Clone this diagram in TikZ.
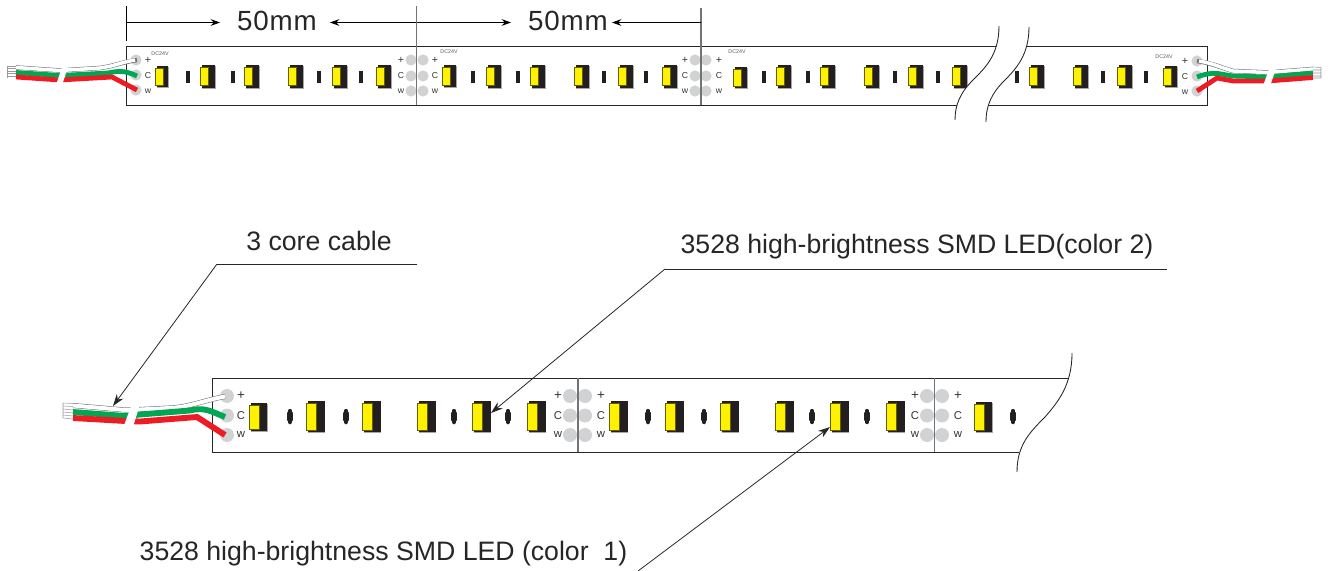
\documentclass[tikz,border=0pt]{standalone}
\usepackage{fontspec}
\setmainfont{Liberation Sans}
\newfontfamily\spacedfont[LetterSpace=3]{Liberation Sans}
\usetikzlibrary{arrows.meta}
\definecolor{ledyellow}{HTML}{FFF200}
\definecolor{ledblack}{HTML}{231F20}
\definecolor{wiregreen}{HTML}{00A651}
\definecolor{wirered}{HTML}{ED1C24}
\definecolor{padgrey}{HTML}{D1D2D4}
\tikzset{
  x=0.75pt,y=-0.75pt,
  outline/.style={draw=black!85,line width=0.65pt},
  divider/.style={draw=black!55,line width=1.1pt},
  dimline/.style={draw=black,line width=0.6pt},
  dimarrow/.style={dimline,-{Stealth[length=7pt,width=5pt]}},
  leader/.style={draw=black!85,line width=0.6pt},
  leadarrow/.style={leader,-{Stealth[length=9pt,width=6pt]}},
  bigtext/.style={inner sep=0pt,font=\fontsize{20}{20}\selectfont,text=black!85},
  dimtext/.style={inner sep=0pt,font=\spacedfont\fontsize{20.8}{21}\selectfont,text=black!85},
  smalllab/.style={inner sep=0pt,font=\fontsize{6.5}{7}\selectfont,text=black!80},
  midlab/.style={inner sep=0pt,font=\fontsize{8.5}{9}\selectfont,text=black!80},
  tinylab/.style={inner sep=0pt,font=\fontsize{4}{4}\selectfont,text=black!65},
  whitewire/.style={draw=black!55,line width=3.4pt,line cap=butt},
  whitecore/.style={draw=white,line width=2.6pt,line cap=butt},
  greenwire/.style={draw=wiregreen,line width=3.6pt,line cap=butt},
  redwire/.style={draw=wirered,line width=3.6pt,line cap=butt},
  stub/.style={draw=black!40,line width=0.4pt},
}
% LED: x, top, bottom, yellow width, total width
\newcommand\ledmark[5]{%
  \fill[black!35] ({#1+1.5},{#2+1}) rectangle ({#1+#5+0.8},{#3+1});
  \fill[ledblack] ({#1+1.5},#2) rectangle ({#1+#5},#3);
  \fill[ledyellow,draw=black!60!ledyellow,line width=0.5pt] (#1,{#2+2.5}) rectangle ({#1+#4},{#3-2});
}
\newcommand\toplabels[2]{% x of labels, y first row
  \node[smalllab,font=\fontsize{8}{8}\selectfont] at (#1,#2) {+};
  \node[smalllab] at (#1,{#2+15.5}) {C};
  \node[smalllab] at (#1,{#2+31}) {w};
}
\newcommand\botlabels[2]{%
  \node[midlab,font=\fontsize{10}{10}\selectfont] at (#1,#2) {+};
  \node[midlab] at (#1,{#2+19.5}) {C};
  \node[midlab] at (#1,{#2+39}) {w};
}
\begin{document}
\begin{tikzpicture}
\useasboundingbox (0,0) rectangle (1332,571);

% ---------- TOP STRIP ----------
\draw[outline] (997,46) -- (126,46) -- (126,105) -- (957,105);
\draw[outline] (1027,46) -- (1207,46) -- (1207,105) -- (987,105);

% pads
\foreach \px/\py in {136/60,136/75,136/90,411/60,411/76,411/91,423/60,423/76,423/91,
                     695/60,695/76,695/91,706/60,706/76,706/91,1197/61,1197/76,1197/91}
  \fill[padgrey] (\px,\py) circle[radius=5.6];

% LEDs top
\ledmark{155}{65.5}{87}{8}{13}
\foreach \lx in {200,244,288,332,376,486,530,574,618,662,776,820,864,908,952,1029,1073,1117}
  \ledmark{\lx}{65}{87.5}{8}{15}
\ledmark{442}{64.5}{87}{8}{14}
\ledmark{733}{66.5}{88}{8}{14}
\ledmark{1163}{65.5}{87}{8}{14}
\foreach \bx in {186,231,317,359,471,516,602,644,762,806,893,936,1015,1101,1144}
  \fill[ledblack] (\bx,71) rectangle ({\bx+3.6},83);

% labels top
\toplabels{148}{60}
\toplabels{401}{60}
\toplabels{435}{60}
\toplabels{685}{60}
\toplabels{719}{60}
\toplabels{1185}{61}
\node[tinylab] (dcA) at (160,54) {DC24V};
\node[tinylab] (dcB) at (449,52) {DC24V};
\node[tinylab] (dcC) at (737,52) {DC24V};
\node[tinylab] (dcD) at (1164,57) {DC24V};

% dividers and dimension ticks
\draw[divider] (416.5,6) -- (416.5,105);
\draw[divider] (701,8) -- (701,105);
\draw[dimline] (126,6) -- (126,41);

% break in the strip
\fill[white] (999,26) .. controls (999,55) and (985,68) .. (973,80) .. controls (960,93) and (955,105) .. (955,120)
  -- (986,122) .. controls (986,105) and (992,93) .. (1004,81) .. controls (1016,69) and (1029,55) .. (1029,27) -- cycle;
\draw[outline] (999,26) .. controls (999,55) and (985,68) .. (973,80) .. controls (960,93) and (955,105) .. (955,120);
\draw[outline] (1029,27) .. controls (1029,55) and (1016,69) .. (1004,81) .. controls (992,93) and (986,105) .. (986,122);

% wires top-left
\draw[stub] (7,66) -- (16,66) (7,68.5) -- (16,68.5) (7,71) -- (16,71) (7,73.5) -- (16,73.5) (7,76) -- (16,76) (7,66) -- (7,78);
\draw[whitewire] (16,67.5) -- (60,70.5) -- (100,68) .. controls (115,66) and (122,62) .. (137,60);
\draw[whitecore] (16,67.5) -- (60,70.5) -- (100,68) .. controls (115,66) and (122,62) .. (135,60);
\draw[greenwire] (16,72.5) -- (60,75.5) -- (108,73) .. controls (118,71) and (124,70) .. (137,76);
\draw[redwire] (16,77) -- (60,80) -- (112,77) -- (137,90);
\fill[white] (56,85) -- (63,64) -- (69,64) -- (62,85) -- cycle;

% wires top-right
\draw[stub] (1313,67) -- (1321,67.5) (1313,70) -- (1321,70) (1313,73) -- (1321,73) (1313,76) -- (1321,76) (1313,78) -- (1321,78) (1321,67) -- (1321,78);
\draw[whitewire] (1313,69) -- (1268,72.5) -- (1233,71) .. controls (1222,68) and (1212,63) .. (1197,61);
\draw[whitecore] (1313,69) -- (1268,72.5) -- (1233,71) .. controls (1222,68) and (1212,63) .. (1199,61);
\draw[greenwire] (1313,73) -- (1268,77) -- (1233,76) .. controls (1222,75) and (1215,70) .. (1197,77);
\draw[redwire] (1313,77.5) -- (1268,81) -- (1233,81) -- (1217,78) -- (1197,91);
\fill[white] (1263,86) -- (1270,66) -- (1277,66) -- (1270,86) -- cycle;

% dimensions
\coordinate (dA1) at (127,22.5);
\coordinate (dA2) at (220,22.5);
\coordinate (dB1) at (416,22.5);
\coordinate (dB2) at (330,22.5);
\coordinate (dC1) at (417,22.5);
\coordinate (dC2) at (511,22.5);
\coordinate (dD1) at (701,22.5);
\coordinate (dD2) at (612,22.5);
\draw[dimarrow] (dA1) -- (dA2);
\draw[dimarrow] (dB1) -- (dB2);
\draw[dimarrow] (dC1) -- (dC2);
\draw[dimarrow] (dD1) -- (dD2);
\node[dimtext] (dimL) at (277,20.5) {50mm};
\node[dimtext] (dimR) at (568,20.5) {50mm};

% ---------- BOTTOM STRIP ----------
\draw[outline] (1068,378) -- (212,378) -- (212,452) -- (1019,452);
\foreach \px in {227,570,585,927,942}
  \foreach \py in {396,415.5,435}
    \fill[padgrey] (\px,\py) circle[radius=7];

\ledmark{249}{403}{431}{10}{18}
\foreach \lx in {306,362,417,472,527,609,665,720,775,830,886}
  \ledmark{\lx}{401}{432}{10}{18.5}
\ledmark{974}{402}{432}{10}{18}
\foreach \bx in {290,346,454,508,648,704,812,867,1013}
  \fill[ledblack] (\bx,416.5) ellipse[x radius=2.5,y radius=7.5];

\botlabels{241}{396}
\botlabels{558}{396}
\botlabels{601}{396}
\botlabels{915}{396}
\botlabels{958}{396}

\draw[divider] (578,378) -- (578,452);
\draw[divider] (934.5,378) -- (934.5,452);
\draw[outline] (1072,353) .. controls (1072,385) and (1058,402) .. (1045,417) .. controls (1030,432) and (1017,445) .. (1017,472);

% wires bottom
\draw[stub] (63,403) -- (73,403.5) (63,406) -- (73,406.5) (63,409) -- (73,410) (63,412) -- (73,413) (63,415) -- (73,416) (63,418) -- (73,419) (63,403) -- (63,418);
\draw[whitewire,line width=3.8pt] (73,405.5) -- (125,410) -- (140,409.5) -- (170,408) .. controls (190,407) and (205,400) .. (225,396.5);
\draw[whitecore,line width=3pt] (73,405.5) -- (125,410) -- (140,409.5) -- (170,408) .. controls (190,407) and (205,400) .. (225,396.5);
\draw[greenwire,line width=4.4pt] (73,412) -- (125,416) -- (140,414.5) -- (190,410.5) .. controls (205,407) and (210,411) .. (225,417);
\draw[redwire,line width=4.4pt] (73,418) -- (125,421) -- (140,421.5) -- (197,417) -- (225,435);
\fill[white] (123,428) -- (133,401) -- (141,401) -- (133,427) -- cycle;

% leaders and labels
\node[bigtext] (cable) at (319,241) {3 core cable};
\node[bigtext] (ledB) at (917,247) {3528 high-brightness SMD LED(color 2)};
\node[bigtext] (ledA) at (383.5,554) {3528 high-brightness SMD LED (color\ \ 1)};
\coordinate (lcR) at (417,264);
\coordinate (lcK) at (217,264);
\coordinate (lcT) at (113,406);
\coordinate (lbR) at (1167,269);
\coordinate (lbK) at (665,269);
\coordinate (lbT) at (491,413);
\coordinate (laE) at (638,571);
\coordinate (laT) at (830,427);
\draw[leader] (lcR) -- (lcK);
\draw[leadarrow] (lcK) -- (lcT);
\draw[leader] (lbR) -- (lbK);
\draw[leadarrow] (lbK) -- (lbT);
\draw[leadarrow] (laE) -- (laT);
\end{tikzpicture}
\end{document}
